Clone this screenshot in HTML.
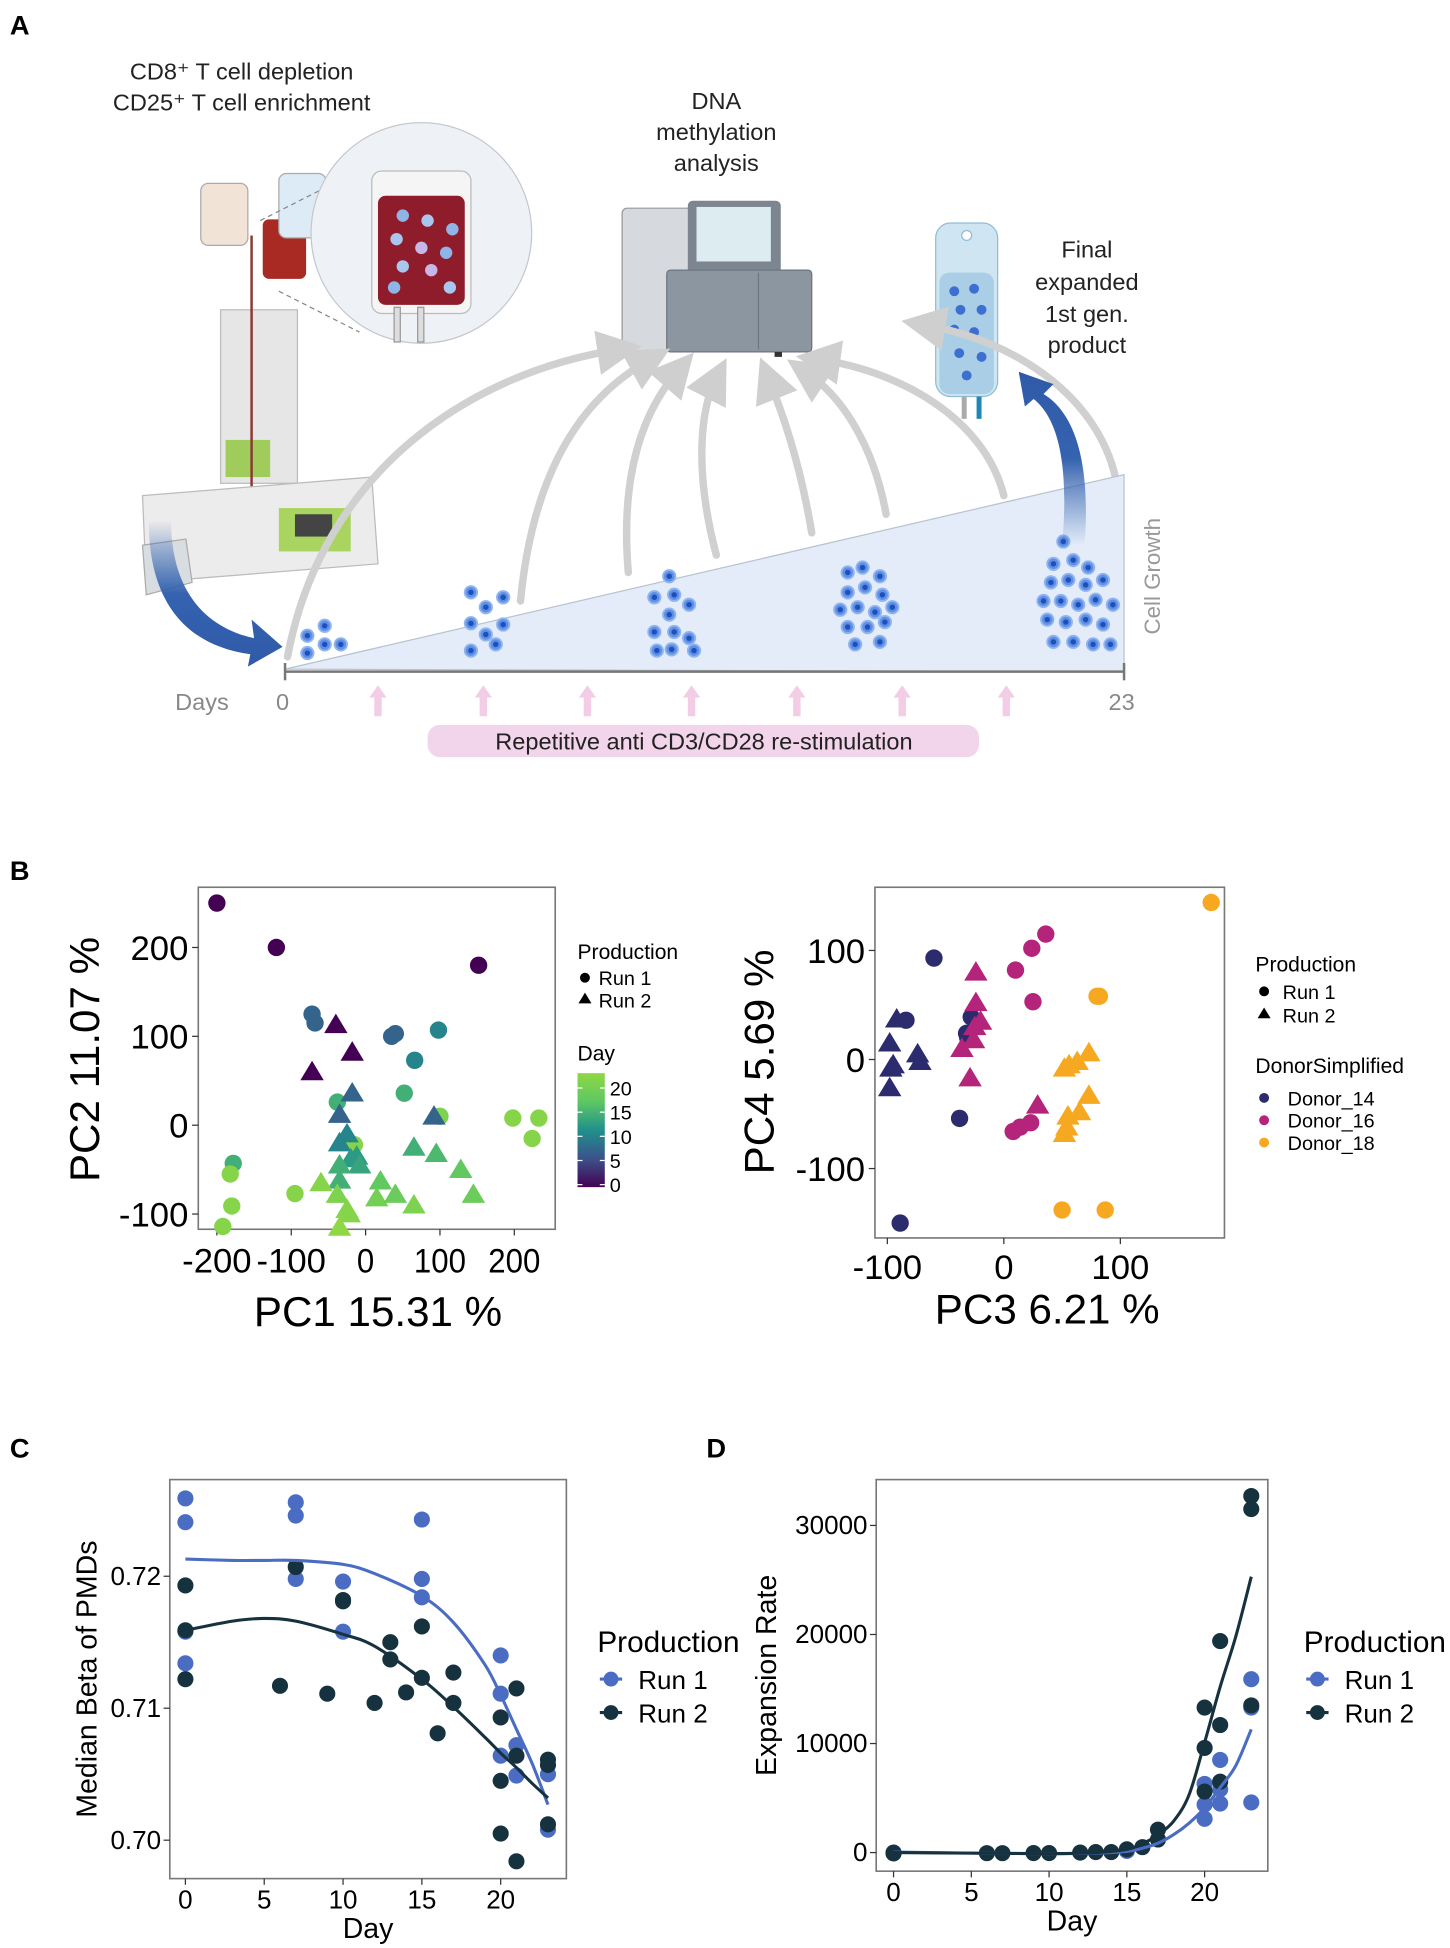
<!DOCTYPE html>
<html><head><meta charset="utf-8">
<style>
html,body{margin:0;padding:0;background:#fff;}
svg{display:block;}
text{font-family:"Liberation Sans",sans-serif;}
</style></head>
<body>
<svg id="fig" width="1450" height="1948" viewBox="0 0 1170 1572" preserveAspectRatio="none" xmlns="http://www.w3.org/2000/svg">
<defs>
  <linearGradient id="blueArrow" x1="0" y1="0" x2="0" y2="1">
    <stop offset="0" stop-color="#3563b0" stop-opacity="0"/>
    <stop offset="0.5" stop-color="#3563b0"/>
    <stop offset="1" stop-color="#2f5aa8"/>
  </linearGradient>
  <linearGradient id="blueArrowUp" x1="0" y1="1" x2="0" y2="0">
    <stop offset="0" stop-color="#3563b0" stop-opacity="0"/>
    <stop offset="0.5" stop-color="#3563b0"/>
    <stop offset="1" stop-color="#2f5aa8"/>
  </linearGradient>
  <linearGradient id="viridis" x1="0" y1="1" x2="0" y2="0">
    <stop offset="0" stop-color="#440154"/>
    <stop offset="0.25" stop-color="#3b528b"/>
    <stop offset="0.5" stop-color="#21908c"/>
    <stop offset="0.75" stop-color="#5dc863"/>
    <stop offset="1" stop-color="#8fd744"/>
  </linearGradient>
  <marker id="greyHead" markerWidth="6" markerHeight="6" refX="3" refY="3" orient="auto" markerUnits="strokeWidth">
    <path d="M0,0 L6,3 L0,6 Z" fill="#cfcfcf"/>
  </marker>
</defs>

<!-- ============ PANEL A ============ -->
<g>
  <text x="8" y="28" font-size="22" font-weight="bold">A</text>
  <text x="195" y="64" font-size="19" text-anchor="middle" fill="#222">CD8⁺ T cell depletion</text>
  <text x="195" y="89" font-size="19" text-anchor="middle" fill="#222">CD25⁺ T cell enrichment</text>

  <g>
    <rect x="162" y="148" width="38" height="50" rx="6" fill="#f1e3d6" stroke="#aaa"/>
    <rect x="212" y="177" width="35" height="48" rx="5" fill="#a82a22"/>
    <rect x="225" y="140" width="38" height="52" rx="6" fill="#dcebf5" stroke="#aaa"/>
    <rect x="178" y="250" width="62" height="140" fill="#e6e6e6" stroke="#bbb"/>
    <rect x="182" y="355" width="36" height="30" fill="#9fcc5a"/>
    <line x1="203" y1="190" x2="203" y2="420" stroke="#8a3a33" stroke-width="2"/>
    <path d="M115,400 L300,385 L305,455 L118,470 Z" fill="#ececec" stroke="#bbb"/>
    <rect x="225" y="410" width="58" height="35" fill="#a9d45f"/>
    <rect x="238" y="415" width="30" height="18" fill="#444"/>
    <path d="M115,440 L150,435 L155,470 L118,480 Z" fill="#d8dde2" stroke="#aaa"/>
  </g>

  <line x1="210" y1="178" x2="285" y2="140" stroke="#888" stroke-dasharray="4,3"/>
  <line x1="225" y1="235" x2="290" y2="268" stroke="#888" stroke-dasharray="4,3"/>
  <g>
    <circle cx="340" cy="188" r="89" fill="#eef2f6" stroke="#c4c8cc"/>
    <rect x="300" y="138" width="80" height="115" rx="8" fill="#f5f5f5" stroke="#bbb"/>
    <rect x="305" y="158" width="70" height="88" rx="6" fill="#8e1c2a"/>
    <circle cx="325" cy="174" r="5" fill="#8fb5e8"/><circle cx="345" cy="178" r="5" fill="#a9c6ef"/>
    <circle cx="365" cy="185" r="5" fill="#8fb5e8"/><circle cx="320" cy="193" r="5" fill="#a9c6ef"/>
    <circle cx="340" cy="200" r="5" fill="#c7b7e8"/><circle cx="360" cy="204" r="5" fill="#8fb5e8"/>
    <circle cx="325" cy="215" r="5" fill="#a9c6ef"/><circle cx="348" cy="218" r="5" fill="#c7b7e8"/>
    <circle cx="318" cy="232" r="5" fill="#8fb5e8"/><circle cx="363" cy="232" r="5" fill="#a9c6ef"/>
    <rect x="318" y="248" width="5" height="28" fill="#ddd" stroke="#999"/>
    <rect x="337" y="248" width="5" height="28" fill="#ddd" stroke="#999"/>
  </g>

  <text x="578" y="88" font-size="19" text-anchor="middle" fill="#222">DNA</text>
  <text x="578" y="113" font-size="19" text-anchor="middle" fill="#222">methylation</text>
  <text x="578" y="138" font-size="19" text-anchor="middle" fill="#222">analysis</text>
  <g>
    <rect x="502" y="168" width="60" height="115" rx="4" fill="#d6d9dd" stroke="#999"/>
    <rect x="555" y="162" width="75" height="65" rx="4" fill="#7c8590"/>
    <rect x="562" y="167" width="60" height="44" fill="#dcecf0"/>
    <rect x="538" y="218" width="117" height="66" rx="3" fill="#8c96a1" stroke="#6d7680"/>
    <line x1="612" y1="220" x2="612" y2="282" stroke="#6d7680"/>
    <rect x="530" y="284" width="6" height="4" fill="#333"/><rect x="625" y="284" width="6" height="4" fill="#333"/>
  </g>

  <g>
    <rect x="755" y="180" width="50" height="140" rx="12" fill="#cfe6f2" stroke="#8fbcd8"/>
    <rect x="758" y="220" width="44" height="98" rx="8" fill="#a9cee5"/>
    <circle cx="780" cy="190" r="4" fill="#fff" stroke="#8fbcd8"/>
    <circle cx="770" cy="235" r="4" fill="#3d6fd1"/><circle cx="786" cy="233" r="4" fill="#3d6fd1"/>
    <circle cx="775" cy="250" r="4" fill="#3d6fd1"/><circle cx="792" cy="250" r="4" fill="#3d6fd1"/>
    <circle cx="770" cy="266" r="4" fill="#3d6fd1"/><circle cx="786" cy="268" r="4" fill="#3d6fd1"/>
    <circle cx="774" cy="285" r="4" fill="#3d6fd1"/><circle cx="792" cy="288" r="4" fill="#3d6fd1"/>
    <circle cx="780" cy="303" r="4" fill="#3d6fd1"/>
    <rect x="776" y="320" width="4" height="18" fill="#aaa"/><rect x="788" y="320" width="4" height="18" fill="#1e88b5"/>
  </g>
  <text x="877" y="208" font-size="19" text-anchor="middle" fill="#222">Final</text>
  <text x="877" y="234" font-size="19" text-anchor="middle" fill="#222">expanded</text>
  <text x="877" y="260" font-size="19" text-anchor="middle" fill="#222">1st gen.</text>
  <text x="877" y="285" font-size="19" text-anchor="middle" fill="#222">product</text>

  <g fill="none" stroke="#d0d0d0" stroke-width="6" stroke-linecap="round">
    <path d="M232,530 C260,380 380,300 500,282" marker-end="url(#greyHead)"/>
    <path d="M420,485 C430,380 470,320 525,290" marker-end="url(#greyHead)"/>
    <path d="M507,462 C500,380 520,330 548,298" marker-end="url(#greyHead)"/>
    <path d="M578,448 C560,380 565,330 578,305" marker-end="url(#greyHead)"/>
    <path d="M655,430 C645,370 630,330 620,305" marker-end="url(#greyHead)"/>
    <path d="M715,415 C705,360 680,320 650,300" marker-end="url(#greyHead)"/>
    <path d="M810,400 C795,340 730,300 660,290" marker-end="url(#greyHead)"/>
    <path d="M900,385 C885,320 820,275 745,262" marker-end="url(#greyHead)"/>
  </g>

  <path d="M230,540 L907,383 L907,542 Z" fill="#e3ecf8" stroke="#b9c3cf"/>
  <line x1="230" y1="542" x2="907" y2="542" stroke="#777" stroke-width="2"/>
  <line x1="230" y1="535" x2="230" y2="549" stroke="#777" stroke-width="2"/>
  <line x1="907" y1="535" x2="907" y2="549" stroke="#777" stroke-width="2"/>
  <text x="163" y="573" font-size="19" text-anchor="middle" fill="#888">Days</text>
  <text x="228" y="573" font-size="19" text-anchor="middle" fill="#888">0</text>
  <text x="905" y="573" font-size="19" text-anchor="middle" fill="#888">23</text>
  <text transform="translate(936,465) rotate(-90)" font-size="18" text-anchor="middle" fill="#999">Cell Growth</text>

  <g id="cellClusters"></g>
  <g id="pinkArrows"></g>

  <rect x="345" y="585" width="445" height="26" rx="10" fill="#f2d5ea"/>
  <text x="568" y="605" font-size="19" text-anchor="middle" fill="#222">Repetitive anti CD3/CD28 re-stimulation</text>

  <path d="M138,420 C138,470 160,505 205,515 L203,500 L228,522 L200,538 L202,528 C145,520 120,480 120,420 Z" fill="url(#blueArrow)"/>
  <path d="M875,440 C880,380 870,335 842,318 L850,310 L822,300 L827,328 L834,322 C857,340 862,385 857,440 Z" fill="url(#blueArrowUp)"/>
</g>

<text x="8" y="710" font-size="22" font-weight="bold">B</text>
<g id="pcaLeft"></g>
<g id="pcaRight"></g>

<text x="8" y="1176" font-size="22" font-weight="bold">C</text>
<text x="570" y="1176" font-size="22" font-weight="bold">D</text>
<g id="plotC"></g>
<g id="plotD"></g>
</svg>

<script>
// ---------- Panel B left data (PC1 vs PC2) ----------
const pcaL_run1_pc1 = [-200,-120,152,-72,-68,35,40,98,66,52,-38,100,198,233,224,-178,-182,-180,-192,-95,-15];
const pcaL_run1_pc2 = [250,200,180,125,115,100,103,107,73,36,26,10,8,8,-15,-43,-55,-91,-114,-77,-22];
const pcaL_run1_day = [0,0,0,7,7,7,7,10,10,14,14,20,21,21,21,14,21,21,21,21,21];
const pcaL_run2_pc1 = [-40,-18,-72,-18,-35,92,-25,-35,-12,-20,-8,-35,-35,65,95,128,145,20,-60,-38,15,40,65,-25,-22,-35];
const pcaL_run2_pc2 = [113,82,60,36,12,10,-10,-20,-35,-38,-45,-45,-62,-25,-32,-50,-78,-63,-65,-78,-82,-78,-90,-95,-100,-115];
const pcaL_run2_day = [0,0,0,7,7,7,10,10,12,12,13,14,14,14,15,17,18,17,21,20,19,18,20,21,21,22];
const pcaL_xticks = [-200,-100,0,100,200];
const pcaL_yticks = [-100,0,100,200];
const dayTicks = [0,5,10,15,20];

// ---------- Panel B right data (PC3 vs PC4) ----------
const donors = ["Donor_14","Donor_16","Donor_18"];
const pcaR_run1_pc3 = [-60,-84,-28,-32,-31,-38,-89, 10,24,36,25,8,14,23, 178,80,82,50,87];
const pcaR_run1_pc4 = [93,36,39,24,20,-54,-150, 82,102,115,53,-66,-62,-58, 144,58,58,-138,-138];
const pcaR_run1_donor = [0,0,0,0,0,0,0, 1,1,1,1,1,1,1, 2,2,2,2,2];
const pcaR_run2_pc3 = [-92,-98,-97,-95,-74,-72,-98, -24,-24,-20,-25,-26,-36,-29,29, 73,63,56,52,73,65,55,54,52];
const pcaR_run2_pc4 = [37,15,-8,-5,5,-2,-26, 80,52,35,30,18,10,-17,-42, 6,-2,-5,-8,-33,-48,-52,-62,-68];
const pcaR_run2_donor = [0,0,0,0,0,0,0, 1,1,1,1,1,1,1,1, 2,2,2,2,2,2,2,2,2];
const pcaR_xticks = [-100,0,100];
const pcaR_yticks = [-100,0,100];

// ---------- Panel C data ----------
const c_run1_day  = [0,0,0,0,7,7,7,10,10,15,15,15,20,20,20,21,21,23,23];
const c_run1_beta = [0.7259,0.7241,0.7158,0.7134,0.7256,0.7246,0.7198,0.7196,0.7158,0.7243,0.7198,0.7184,0.7140,0.7111,0.7064,0.7072,0.7049,0.7050,0.7008];
const c_run2_day  = [0,0,0,6,7,9,10,10,12,13,13,14,15,15,16,17,17,20,20,20,21,21,21,23,23,23];
const c_run2_beta = [0.7193,0.7159,0.7122,0.7117,0.7207,0.7111,0.7182,0.7181,0.7104,0.7150,0.7137,0.7112,0.7162,0.7123,0.7081,0.7127,0.7104,0.7093,0.7045,0.7005,0.7115,0.7064,0.6984,0.7061,0.7057,0.7012];
const c_fit_day   = [0,3,5,7,10,12,15,17,19,20,21,22,23];
const c_fit_run1  = [0.7213,0.7212,0.7212,0.7212,0.7209,0.7202,0.7185,0.7165,0.7133,0.7110,0.7084,0.7058,0.7027];
const c_fit_run2  = [0.7159,0.7166,0.7168,0.7166,0.7156,0.7147,0.7122,0.7101,0.7078,0.7066,0.7055,0.7043,0.7032];
const c_yticks = [0.70,0.71,0.72];

// ---------- Panel D data ----------
const d_run1_day  = [15,20,20,20,21,21,21,23,23,23];
const d_run1_rate = [150,6300,4400,3100,8500,5800,4500,15900,13300,4600];
const d_run2_day  = [0,0,6,7,9,10,12,13,14,15,16,17,17,20,20,20,21,21,21,23,23,23];
const d_run2_rate = [0,-80,-50,-50,-40,-40,0,50,50,300,500,2100,1200,13300,9600,5600,19400,11700,6500,32700,31500,13500];
const d_fit_day   = [0,5,10,13,15,16,17,18,19,20,21,22,23];
const d_fit_run1  = [50,-50,-100,-50,100,400,860,1640,2700,4100,5960,7960,11300];
const d_fit_run2  = [0,-50,-100,0,300,800,1640,2870,5300,10100,15200,19800,25300];
const d_yticks = [0,10000,20000,30000];

const NS = "http://www.w3.org/2000/svg";
function mk(tag, attrs, parent){
  const e = document.createElementNS(NS, tag);
  for (const k in attrs) e.setAttribute(k, attrs[k]);
  if (parent) parent.appendChild(e);
  return e;
}
function txt(parent, x, y, s, size, anchor, extra){
  const t = mk("text", Object.assign({x:x, y:y, "font-size":size, "text-anchor":anchor||"middle", fill:"#000"}, extra||{}), parent);
  t.textContent = s;
  return t;
}
function linScale(d0,d1,r0,r1){ return v => r0 + (v-d0)/(d1-d0)*(r1-r0); }

const vir = [[68,1,84],[59,82,139],[33,144,140],[93,200,99],[143,215,68]];
function viridis(day){
  let t = Math.max(0, Math.min(1, day/22));
  const p = t*(vir.length-1), i = Math.min(vir.length-2, Math.floor(p)), f = p-i;
  const c = vir[i].map((v,k)=>Math.round(v+(vir[i+1][k]-v)*f));
  return "rgb("+c.join(",")+")";
}
function triPath(x,y,s){ return "M"+x+","+(y-s)+" L"+(x+s*1.05)+","+(y+s*0.75)+" L"+(x-s*1.05)+","+(y+s*0.75)+" Z"; }
function frame(g, L, T, R, B){
  mk("rect",{x:L,y:T,width:R-L,height:B-T,fill:"#fff",stroke:"#777","stroke-width":1.3},g);
}

(function(){
  const cg = document.getElementById("cellClusters");
  const clusters = [
    [[248,513],[262,505],[275,520],[262,520],[248,527]],
    [[380,478],[392,490],[406,482],[380,503],[392,512],[406,504],[380,525],[400,520]],
    [[540,465],[528,482],[544,480],[556,488],[540,496],[528,510],[544,510],[556,515],[530,525],[560,525],[542,524]],
    [[684,462],[696,458],[710,465],[684,478],[698,474],[712,480],[678,492],[692,490],[706,494],[720,490],[684,506],[700,506],[714,502],[690,520],[710,518]],
    [[858,437],[850,455],[866,452],[878,458],[848,470],[862,468],[876,472],[890,468],[842,485],[856,485],[870,488],[884,484],[898,488],[845,500],[860,502],[876,500],[890,504],[850,518],[866,518],[882,520],[896,520]]
  ];
  clusters.forEach(cl=>{
    cl.forEach(p=>{
      const c = mk("circle",{cx:p[0],cy:p[1],r:5,fill:"#5d8fe6",stroke:"#8fb4f0","stroke-width":1.5},cg);
      
      
      mk("circle",{cx:p[0],cy:p[1],r:2.2,fill:"#1f4fb8"},cg);
    });
  });
  const pa = document.getElementById("pinkArrows");
  [305,390,474,558,643,728,812].forEach(x=>{
    const a = mk("path",{d:"M"+x+",553 L"+(x+7)+",563 L"+(x+3)+",563 L"+(x+3)+",578 L"+(x-3)+",578 L"+(x-3)+",563 L"+(x-7)+",563 Z",fill:"#f3cde6"},pa);
    
    
  });
})();

(function(){
  const g = document.getElementById("pcaLeft");
  const L=160,T=716,R=448,B=992;
  const xs = linScale(0,100,295,355), ys = linScale(0,100,908,836.3);
  frame(g,L,T,R,B);
  pcaL_xticks.forEach(v=>{
    mk("line",{x1:xs(v),y1:B,x2:xs(v),y2:B+5,stroke:"#333"},g);
    const t = txt(g, xs(v), B+35, String(v), 28, "middle", {"textLength": String(v).length*14, "lengthAdjust":"spacingAndGlyphs"});
    
    
  });
  pcaL_yticks.forEach(v=>{
    mk("line",{x1:L-5,y1:ys(v),x2:L,y2:ys(v),stroke:"#333"},g);
    const t = txt(g, L-8, ys(v)+10, String(v), 28, "end");
    
    
  });
  const xt = txt(g, 305, 1070, "PC1 15.31 %", 34, "middle");
  
  
  const yt = txt(g, 0, 0, "PC2 11.07 %", 34, "middle", {transform:"translate(80,855) rotate(-90)"});
  
  
  pcaL_run1_pc1.forEach((v,i)=>{
    const c = mk("circle",{cx:xs(v),cy:ys(pcaL_run1_pc2[i]),r:7,fill:viridis(pcaL_run1_day[i])},g);
    
    
  });
  pcaL_run2_pc1.forEach((v,i)=>{
    const p = mk("path",{d:triPath(xs(v),ys(pcaL_run2_pc2[i]),9),fill:viridis(pcaL_run2_day[i])},g);
    
    
  });
  const lg = mk("g",{},g);
  
  
  txt(lg, 466, 774, "Production", 17, "start");
  mk("circle",{cx:472,cy:789,r:4,fill:"#000"},lg); txt(lg, 483, 795, "Run 1", 16, "start");
  mk("path",{d:triPath(472,806,5),fill:"#000"},lg); txt(lg, 483, 813, "Run 2", 16, "start");
  txt(lg, 466, 856, "Day", 17, "start");
  mk("rect",{x:466,y:866,width:22,height:92,fill:"url(#viridis)"},lg);
  const cs = linScale(0,20,956,878);
  dayTicks.forEach(d=>{
    mk("line",{x1:466,y1:cs(d),x2:470,y2:cs(d),stroke:"#fff"},lg);
    mk("line",{x1:484,y1:cs(d),x2:488,y2:cs(d),stroke:"#fff"},lg);
    txt(lg, 492, cs(d)+6, String(d), 16, "start");
  });
})();

(function(){
  const g = document.getElementById("pcaRight");
  const L=706,T=716,R=988,B=999;
  const xs = linScale(0,100,810,904), ys = linScale(0,100,855,767);
  const dcol = ["#2c2b6e","#b4247a","#f6a821"];
  frame(g,L,T,R,B);
  pcaR_xticks.forEach(v=>{
    mk("line",{x1:xs(v),y1:B,x2:xs(v),y2:B+5,stroke:"#333"},g);
    const t = txt(g, xs(v), B+33, String(v), 28, "middle");
    
    
  });
  pcaR_yticks.forEach(v=>{
    mk("line",{x1:L-5,y1:ys(v),x2:L,y2:ys(v),stroke:"#333"},g);
    const t = txt(g, L-8, ys(v)+10, String(v), 28, "end");
    
    
  });
  const xt = txt(g, 845, 1068, "PC3 6.21 %", 34, "middle");
  
  
  const yt = txt(g, 0, 0, "PC4 5.69 %", 34, "middle", {transform:"translate(624,857) rotate(-90)"});
  
  
  pcaR_run1_pc3.forEach((v,i)=>{
    const c = mk("circle",{cx:xs(v),cy:ys(pcaR_run1_pc4[i]),r:7,fill:dcol[pcaR_run1_donor[i]]},g);
    
    
  });
  pcaR_run2_pc3.forEach((v,i)=>{
    const p = mk("path",{d:triPath(xs(v),ys(pcaR_run2_pc4[i]),9),fill:dcol[pcaR_run2_donor[i]]},g);
    
    
  });
  const lg = mk("g",{},g);
  
  
  txt(lg, 1013, 784, "Production", 17, "start");
  mk("circle",{cx:1020,cy:800,r:4,fill:"#000"},lg); txt(lg, 1035, 806, "Run 1", 16, "start");
  mk("path",{d:triPath(1020,818,5),fill:"#000"},lg); txt(lg, 1035, 825, "Run 2", 16, "start");
  txt(lg, 1013, 866, "DonorSimplified", 17, "start");
  donors.forEach((d,i)=>{
    mk("circle",{cx:1020,cy:886+i*18,r:4,fill:dcol[i]},lg);
    txt(lg, 1039, 892+i*18, d, 16, "start");
  });
})();

function linePlot(gid, box, xsc, ysc, yticks, yfmt, ytitle, ytitleX, r1x, r1y, r2x, r2y, fx, f1, f2, legX){
  const g = document.getElementById(gid);
  const [L,T,R,B] = box;
  const c1 = "#4a6cc3", c2 = "#17323f";
  frame(g,L,T,R,B);
  dayTicks.forEach(v=>{
    mk("line",{x1:xsc(v),y1:B,x2:xsc(v),y2:B+5,stroke:"#333"},g);
    const t = txt(g, xsc(v), B+24, String(v), 21, "middle");
    
    
  });
  yticks.forEach(v=>{
    mk("line",{x1:L-5,y1:ysc(v),x2:L,y2:ysc(v),stroke:"#333"},g);
    const t = txt(g, L-7, ysc(v)+7, yfmt(v), 21, "end");
    
    
  });
  const xt = txt(g, (L+R)/2, B+48, "Day", 23, "middle");
  
  
  const yt = txt(g, 0, 0, ytitle, 23, "middle", {transform:"translate("+ytitleX+","+((T+B)/2)+") rotate(-90)"});
  
  
  r1x.forEach((v,i)=>{
    const c = mk("circle",{cx:xsc(v),cy:ysc(r1y[i]),r:6.5,fill:c1},g);
    
    
  });
  r2x.forEach((v,i)=>{
    const c = mk("circle",{cx:xsc(v),cy:ysc(r2y[i]),r:6.5,fill:c2},g);
    
    
  });
  function curve(vals){
    const pts = fx.map((d,i)=>[xsc(d),ysc(vals[i])]);
    let d = "M"+pts[0][0]+","+pts[0][1];
    for (let i=0;i<pts.length-1;i++){
      const p0=pts[Math.max(0,i-1)],p1=pts[i],p2=pts[i+1],p3=pts[Math.min(pts.length-1,i+2)];
      d += " C"+(p1[0]+(p2[0]-p0[0])/6)+","+(p1[1]+(p2[1]-p0[1])/6)+" "+(p2[0]-(p3[0]-p1[0])/6)+","+(p2[1]-(p3[1]-p1[1])/6)+" "+p2[0]+","+p2[1];
    }
    return d;
  }
  const l1 = mk("path",{d:curve(f1),fill:"none",stroke:c1,"stroke-width":2.5},g);
  
  
  const l2 = mk("path",{d:curve(f2),fill:"none",stroke:c2,"stroke-width":2.5},g);
  
  
  const lg = mk("g",{},g);
  
  
  txt(lg, legX, 1333, "Production", 24, "start");
  [[c1,"Run 1",1355],[c2,"Run 2",1382]].forEach(e=>{
    mk("line",{x1:legX+2,y1:e[2],x2:legX+20,y2:e[2],stroke:e[0],"stroke-width":2.5},lg);
    mk("circle",{cx:legX+11,cy:e[2],r:6,fill:e[0]},lg);
    txt(lg, legX+33, e[2]+8, e[1], 21, "start");
  });
}
linePlot("plotC",[137,1194,457,1516], linScale(0,20,149.6,404), linScale(0.70,0.72,1485,1272),
  c_yticks, v=>v.toFixed(2), "Median Beta of PMDs", 78,
  c_run1_day, c_run1_beta, c_run2_day, c_run2_beta, c_fit_day, c_fit_run1, c_fit_run2, 482);
linePlot("plotD",[707,1194,1023,1510], linScale(0,20,721,972), linScale(0,30000,1495,1231),
  d_yticks, v=>String(v), "Expansion Rate", 626,
  d_run1_day, d_run1_rate, d_run2_day, d_run2_rate, d_fit_day, d_fit_run1, d_fit_run2, 1052);
</script>
</body></html>
